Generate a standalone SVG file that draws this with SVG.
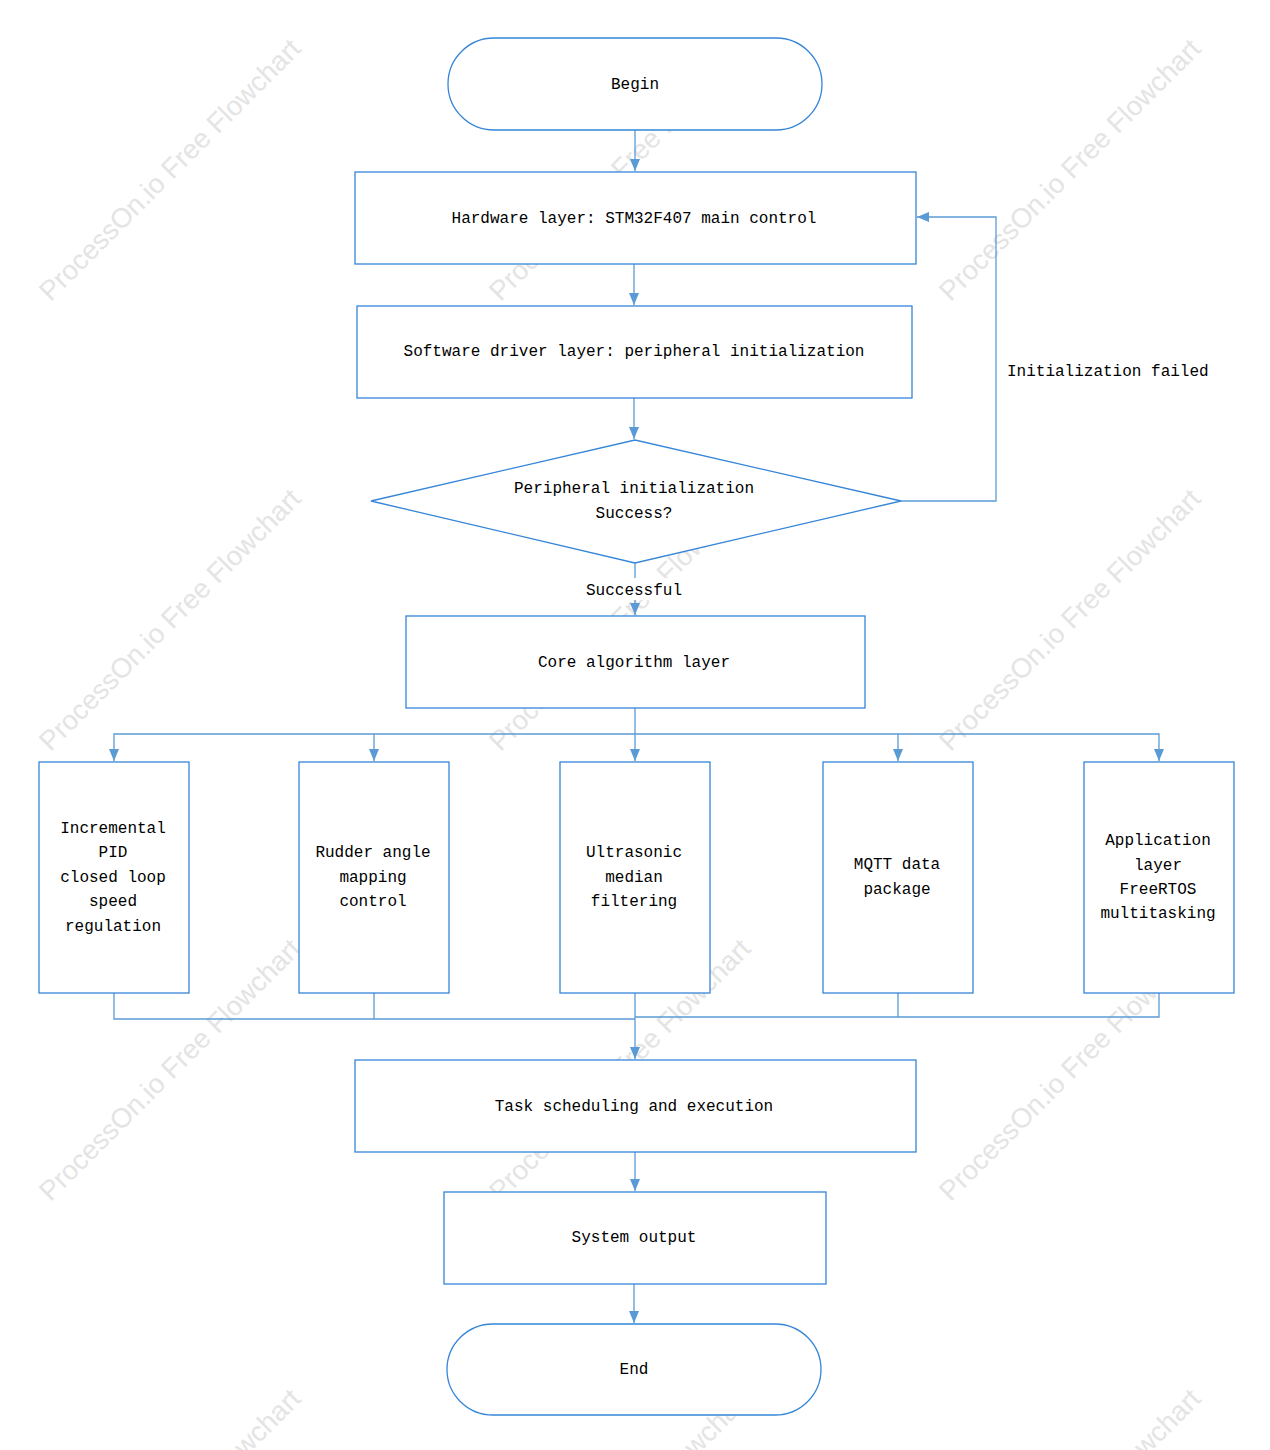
<svg xmlns="http://www.w3.org/2000/svg" width="1270" height="1450" viewBox="0 0 1270 1450">
<style>
.wm{font-family:"Liberation Sans",Arial,sans-serif;font-size:27.5px;fill:#e4e4e4}
.nd{fill:#fff;stroke:#3585d8;stroke-width:1.3}
.t{font-family:"Liberation Mono","DejaVu Sans Mono",monospace;font-size:16px;fill:#000;text-anchor:middle}
.c{fill:none;stroke:#5b9bd5;stroke-width:1.3}
</style>
<defs>
<marker id="ah" viewBox="0 0 12 10" refX="12" refY="5" markerWidth="12" markerHeight="10" markerUnits="userSpaceOnUse" orient="auto">
<path d="M0,0 L12,5 L0,10 z" fill="#5b9bd5"/>
</marker>
</defs>
<rect width="1270" height="1450" fill="#fff"/>
<g id="watermarks">
<text class="wm" transform="translate(170,170) rotate(-45)" text-anchor="middle" dy="9">ProcessOn.io Free Flowchart</text>
<text class="wm" transform="translate(620,170) rotate(-45)" text-anchor="middle" dy="9">ProcessOn.io Free Flowchart</text>
<text class="wm" transform="translate(1070,170) rotate(-45)" text-anchor="middle" dy="9">ProcessOn.io Free Flowchart</text>
<text class="wm" transform="translate(170,620) rotate(-45)" text-anchor="middle" dy="9">ProcessOn.io Free Flowchart</text>
<text class="wm" transform="translate(620,620) rotate(-45)" text-anchor="middle" dy="9">ProcessOn.io Free Flowchart</text>
<text class="wm" transform="translate(1070,620) rotate(-45)" text-anchor="middle" dy="9">ProcessOn.io Free Flowchart</text>
<text class="wm" transform="translate(170,1070) rotate(-45)" text-anchor="middle" dy="9">ProcessOn.io Free Flowchart</text>
<text class="wm" transform="translate(620,1070) rotate(-45)" text-anchor="middle" dy="9">ProcessOn.io Free Flowchart</text>
<text class="wm" transform="translate(1070,1070) rotate(-45)" text-anchor="middle" dy="9">ProcessOn.io Free Flowchart</text>
<text class="wm" transform="translate(170,1520) rotate(-45)" text-anchor="middle" dy="9">ProcessOn.io Free Flowchart</text>
<text class="wm" transform="translate(620,1520) rotate(-45)" text-anchor="middle" dy="9">ProcessOn.io Free Flowchart</text>
<text class="wm" transform="translate(1070,1520) rotate(-45)" text-anchor="middle" dy="9">ProcessOn.io Free Flowchart</text>
</g>
<g id="connectors">
<path class="c" d="M635,130 L635,171" marker-end="url(#ah)"/>
<path class="c" d="M634,264 L634,305" marker-end="url(#ah)"/>
<path class="c" d="M634,398 L634,439" marker-end="url(#ah)"/>
<path class="c" d="M901,501 L996,501 L996,217 L917,217" marker-end="url(#ah)"/>
<path class="c" d="M635,563 L635,615" marker-end="url(#ah)"/>
<path class="c" d="M635,708 L635,761" marker-end="url(#ah)"/>
<path class="c" d="M635,734 L114,734 L114,761" marker-end="url(#ah)"/>
<path class="c" d="M374,734 L374,761" marker-end="url(#ah)"/>
<path class="c" d="M635,734 L1159,734 L1159,761" marker-end="url(#ah)"/>
<path class="c" d="M898,734 L898,761" marker-end="url(#ah)"/>
<path class="c" d="M114,993 L114,1019 L635,1019"/>
<path class="c" d="M374,993 L374,1019"/>
<path class="c" d="M1159,993 L1159,1017 L635,1017"/>
<path class="c" d="M898,993 L898,1017"/>
<path class="c" d="M635,993 L635,1059" marker-end="url(#ah)"/>
<path class="c" d="M635,1152 L635,1191" marker-end="url(#ah)"/>
<path class="c" d="M634,1284 L634,1323" marker-end="url(#ah)"/>
<rect x="583" y="578" width="102" height="22" fill="#fff"/>
<text class="t" x="634" y="595">Successful</text>
<text class="t" x="1007" y="376" style="text-anchor:start">Initialization failed</text>
</g>
<g id="begin">
<rect class="nd" x="448" y="38" width="374" height="92" rx="46" ry="46"/>
<text class="t" x="635" y="89">Begin</text>
</g>
<g id="hardware">
<rect class="nd" x="355" y="172" width="561" height="92"/>
<text class="t" x="634" y="223">Hardware layer: STM32F407 main control</text>
</g>
<g id="software">
<rect class="nd" x="357" y="306" width="555" height="92"/>
<text class="t" x="634" y="356">Software driver layer: peripheral initialization</text>
</g>
<g id="decision">
<polygon class="nd" points="371,501 635,440 901,501 635,563"/>
<text class="t" x="634" y="493">Peripheral initialization</text>
<text class="t" x="634" y="518">Success?</text>
</g>
<g id="core">
<rect class="nd" x="406" y="616" width="459" height="92"/>
<text class="t" x="634" y="667">Core algorithm layer</text>
</g>
<g id="pid">
<rect class="nd" x="39" y="762" width="150" height="231"/>
<text class="t" x="113" y="833">Incremental</text>
<text class="t" x="113" y="857">PID</text>
<text class="t" x="113" y="882">closed loop</text>
<text class="t" x="113" y="906">speed</text>
<text class="t" x="113" y="931">regulation</text>
</g>
<g id="rudder">
<rect class="nd" x="299" y="762" width="150" height="231"/>
<text class="t" x="373" y="857">Rudder angle</text>
<text class="t" x="373" y="882">mapping</text>
<text class="t" x="373" y="906">control</text>
</g>
<g id="ultrasonic">
<rect class="nd" x="560" y="762" width="150" height="231"/>
<text class="t" x="634" y="857">Ultrasonic</text>
<text class="t" x="634" y="882">median</text>
<text class="t" x="634" y="906">filtering</text>
</g>
<g id="mqtt">
<rect class="nd" x="823" y="762" width="150" height="231"/>
<text class="t" x="897" y="869">MQTT data</text>
<text class="t" x="897" y="894">package</text>
</g>
<g id="application">
<rect class="nd" x="1084" y="762" width="150" height="231"/>
<text class="t" x="1158" y="845">Application</text>
<text class="t" x="1158" y="870">layer</text>
<text class="t" x="1158" y="894">FreeRTOS</text>
<text class="t" x="1158" y="918">multitasking</text>
</g>
<g id="task">
<rect class="nd" x="355" y="1060" width="561" height="92"/>
<text class="t" x="634" y="1111">Task scheduling and execution</text>
</g>
<g id="output">
<rect class="nd" x="444" y="1192" width="382" height="92"/>
<text class="t" x="634" y="1242">System output</text>
</g>
<g id="end">
<rect class="nd" x="447" y="1324" width="374" height="91" rx="46" ry="45.5"/>
<text class="t" x="634" y="1374">End</text>
</g>
</svg>
